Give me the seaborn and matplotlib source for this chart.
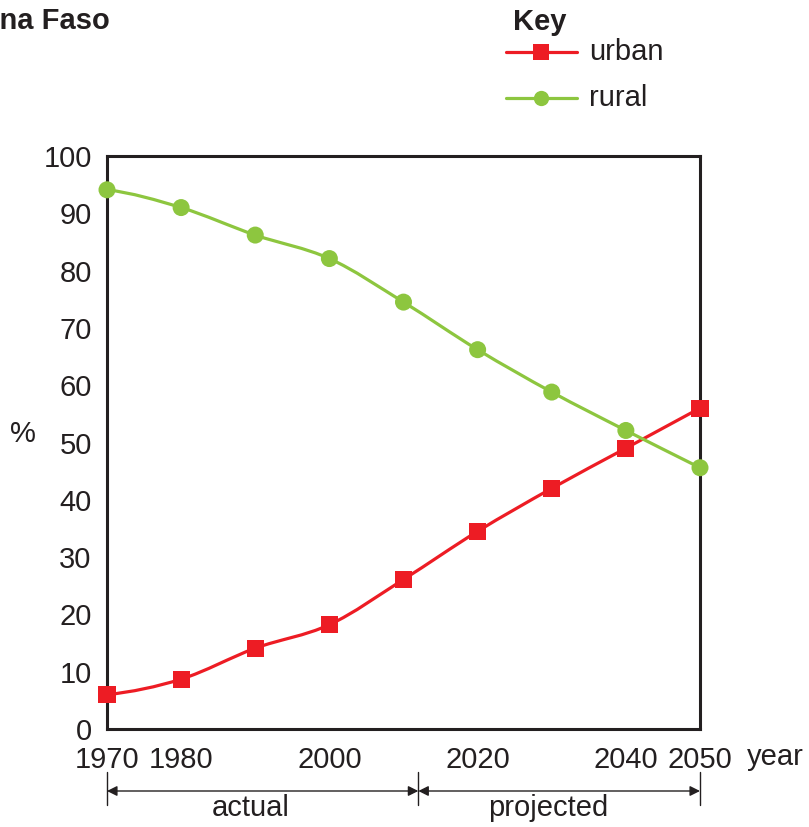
import numpy as np
import pandas as pd
import matplotlib
matplotlib.use('Agg')
import matplotlib.pyplot as plt
from matplotlib.path import Path
from matplotlib.patches import PathPatch
from matplotlib.lines import Line2D
import seaborn as sns

years = [1970, 1980, 1990, 2000, 2010, 2020, 2030, 2040, 2050]
urban = [6.0, 8.7, 14.1, 18.2, 26.1, 34.5, 42.0, 49.0, 56.0]
rural = [94.1, 91.0, 86.2, 82.1, 74.5, 66.2, 58.8, 52.1, 45.6]
tick_years = [1970, 1980, 1990, 2000, 2010, 2020, 2030, 2040, 2050]
tick_labels = ['1970', '1980', '', '2000', '', '2020', '', '2040', '2050']
split_year = 2012

RED = '#ed1c24'
GREEN = '#8dc63f'
INK = '#231f20'
FS = 21

sns.set_style('white')
plt.rcParams['font.family'] = ['Liberation Sans', 'DejaVu Sans']

df = pd.DataFrame({'year': years * 2,
                   'pct': urban + rural,
                   'area': ['urban'] * len(years) + ['rural'] * len(years)})

fig = plt.figure(figsize=(8.09, 8.27), dpi=100)
ax = fig.add_axes([107 / 809, 1 - 729 / 827, 593 / 809, 573 / 827])


def smooth_path(x, y):
    # catmull-rom style curve through the points, as cubic bezier segments
    x = np.asarray(x, float)
    y = np.asarray(y, float)
    px = np.concatenate([[x[0] - (x[1] - x[0])], x, [x[-1] + (x[-1] - x[-2])]])
    py = np.concatenate([[y[0]], y, [y[-1] + (y[-1] - y[-2])]])
    verts = [(x[0], y[0])]
    codes = [Path.MOVETO]
    for i in range(1, len(px) - 2):
        c1 = (px[i] + (px[i + 1] - px[i - 1]) / 6, py[i] + (py[i + 1] - py[i - 1]) / 6)
        c2 = (px[i + 1] - (px[i + 2] - px[i]) / 6, py[i + 1] - (py[i + 2] - py[i]) / 6)
        verts += [c1, c2, (px[i + 1], py[i + 1])]
        codes += [Path.CURVE4] * 3
    return Path(verts, codes)


for name, color in [('urban', RED), ('rural', GREEN)]:
    sub = df[df['area'] == name]
    ax.add_patch(PathPatch(smooth_path(sub['year'], sub['pct']), facecolor='none',
                           edgecolor=color, lw=2.3, zorder=3))

sns.scatterplot(data=df, x='year', y='pct', hue='area', style='area',
                palette={'urban': RED, 'rural': GREEN},
                markers={'urban': 's', 'rural': 'o'},
                s=150, edgecolor='none', legend=False, ax=ax, zorder=4, clip_on=False)

ax.set_xlim(1970, 2050)
ax.set_ylim(0, 100)
ax.set_xticks(tick_years)
ax.set_xticklabels(tick_labels)
ax.set_yticks(range(0, 101, 10))
ax.tick_params(axis='both', direction='out', length=8, width=1.8, color=INK,
               labelsize=FS, labelcolor=INK, pad=3)
ax.tick_params(axis='x', pad=4)
for sp in ax.spines.values():
    sp.set_color(INK)
    sp.set_linewidth(2.2)
ax.set_xlabel('')
ax.set_ylabel('%', rotation=0, fontsize=FS, color=INK, labelpad=0)
ax.yaxis.set_label_coords(-0.141, 0.491)
ax.text(2056.3, -(757 - 729) / 573, 'year', transform=ax.get_xaxis_transform(),
        fontsize=FS, color=INK, ha='left', va='center')

# key, drawn in figure pixels
def fx(px):
    return px / 809


def fy(py):
    return 1 - py / 827


fig.text(fx(513), fy(22), 'Key', fontsize=FS, fontweight='bold', color=INK,
         ha='left', va='center')
for label, color, marker, ypx in [('urban', RED, 's', 52), ('rural', GREEN, 'o', 98)]:
    fig.add_artist(Line2D([fx(506), fx(577)], [fy(ypx), fy(ypx)], color=color, lw=2.3))
    fig.add_artist(Line2D([fx(541)], [fy(ypx)], color=color, marker=marker,
                          markersize=11, markeredgewidth=0, linestyle='none'))
    fig.text(fx(589), fy(ypx), label, fontsize=FS, color=INK, ha='left', va='center')

fig.text(fx(110), fy(21), 'Burkina Faso', fontsize=FS, fontweight='bold',
         color=INK, ha='right', va='center')

# actual / projected brackets below the axis
trans = ax.get_xaxis_transform()
y_arrow = -(791 - 729) / 573
y_tick_top = -(772 - 729) / 573
y_tick_bot = -(805 - 729) / 573
for xv in [1970, split_year, 2050]:
    ax.plot([xv, xv], [y_tick_top, y_tick_bot], transform=trans, color=INK,
            lw=1.0, clip_on=False)
for x0, x1, label, xl in [(1970, split_year, 'actual', 1989.4),
                          (split_year, 2050, 'projected', 2029.5)]:
    ax.annotate('', xy=(x0, y_arrow), xytext=(x1, y_arrow), xycoords=trans,
                textcoords=trans,
                arrowprops=dict(arrowstyle='<|-|>', color=INK, lw=1.0,
                                mutation_scale=15, shrinkA=0, shrinkB=0))
    ax.text(xl, -(808 - 729) / 573, label, transform=trans, fontsize=FS,
            color=INK, ha='center', va='center')

fig.savefig('out.png', dpi=100)
